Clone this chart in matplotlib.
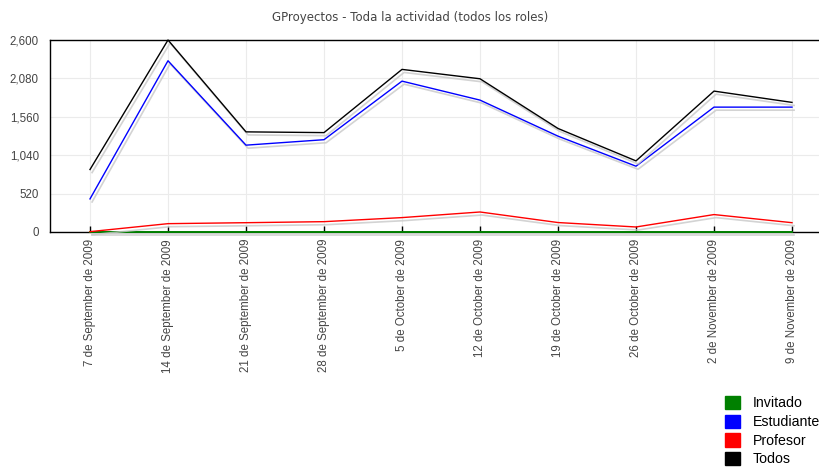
import matplotlib
matplotlib.use("Agg")
import matplotlib.pyplot as plt
import matplotlib.patheffects as pe
from matplotlib.patches import Patch
from matplotlib.ticker import FuncFormatter

categories = ["7 de September de 2009", "14 de September de 2009", "21 de September de 2009",
              "28 de September de 2009", "5 de October de 2009", "12 de October de 2009",
              "19 de October de 2009", "26 de October de 2009", "2 de November de 2009",
              "9 de November de 2009"]
invitado = [0, 0, 0, 0, 0, 0, 0, 0, 0, 0]
estudiante = [448, 2319, 1176, 1250, 2043, 1786, 1298, 891, 1691, 1691]
profesor = [5, 113, 126, 140, 195, 271, 128, 68, 236, 126]
todos = [846, 2600, 1356, 1346, 2202, 2075, 1402, 963, 1908, 1755]
yticks = [0, 520, 1040, 1560, 2080, 2600]

series = [("Invitado", invitado, "#008000"),
          ("Estudiante", estudiante, "#0000ff"),
          ("Profesor", profesor, "#ff0000"),
          ("Todos", todos, "#000000")]

fig = plt.figure(figsize=(8.2, 4.68), dpi=100)
ax = fig.add_axes([50/820, 1-232/468, 780/820, 192/468])

x = list(range(len(categories)))
shadow = [pe.SimpleLineShadow(offset=(1.5, -2.2), shadow_color="#c8c8c8", alpha=0.8, linewidth=1.2), pe.Normal()]
for name, vals, col in series:
    lw = 1.4 if name == "Invitado" else 1.0
    ax.plot(x, vals, color=col, lw=lw, path_effects=shadow, zorder=3, clip_on=False)

ax.set_xlim(-40/78, 740/78)
ax.set_ylim(0, 2600)
ax.set_yticks(yticks)
ax.yaxis.set_major_formatter(FuncFormatter(lambda v, p: f"{int(v):,}"))
ax.set_xticks(x)
ax.set_xticklabels(categories, rotation=90, va="top", ha="center",
                   fontsize=8.3, color="#444444", family="Liberation Sans")
for lab in ax.get_yticklabels():
    lab.set_fontsize(8.3)
    lab.set_color("#444444")
    lab.set_family("Liberation Sans")
ax.grid(True, color="#ebebeb", lw=0.8, zorder=0)
ax.set_axisbelow(True)
ax.tick_params(axis="x", direction="in", length=4, width=1, color="#000000", pad=5)
ax.tick_params(axis="y", direction="in", length=0, pad=8)
for s in ["left", "bottom", "top"]:
    ax.spines[s].set_color("#000000")
    ax.spines[s].set_linewidth(1)
ax.spines["right"].set_visible(False)

fig.text(0.5, 1-18/468, "GProyectos - Toda la actividad (todos los roles)", ha="center", va="center",
         fontsize=8.5, color="#444444", family="DejaVu Sans")

handles = [Patch(facecolor=col, edgecolor=col, label=name) for name, _, col in series]
fig.legend(handles=handles, loc="upper left", bbox_to_anchor=(718/820, 1-389/468), frameon=False,
           prop={"family": "Liberation Sans", "size": 10.2}, handlelength=1.05, handleheight=1.05,
           labelspacing=0.3, handletextpad=0.9, borderpad=0)

fig.savefig("out.png", dpi=100)
